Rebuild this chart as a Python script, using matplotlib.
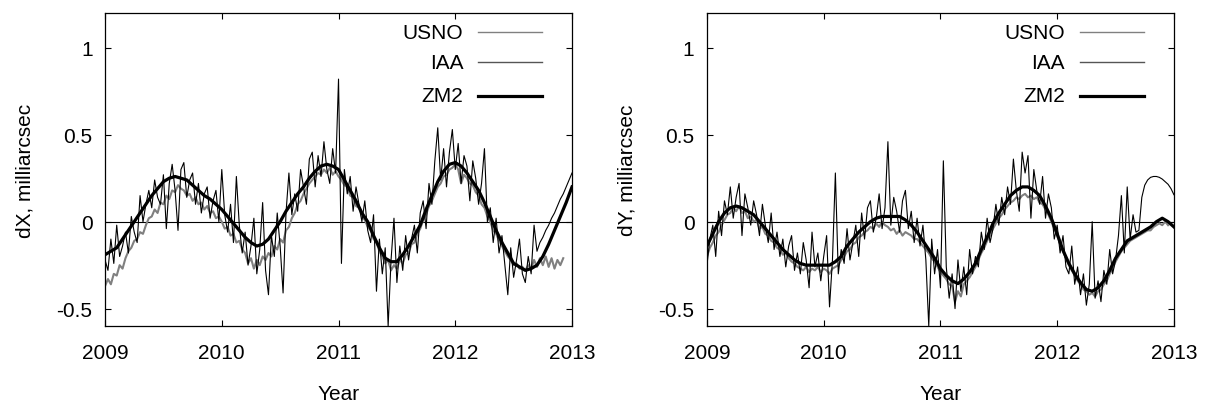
import numpy as np
import matplotlib
matplotlib.use('Agg')
from matplotlib import pyplot as plt

# sampling of the series (years)
t_start = 2009.0
step = 0.025      # USNO / IAA
zm2_step = 0.05   # ZM2

# ---- dX, milliarcsec ----
iaa_dx = [
    -0.22, -0.28, -0.10, -0.24, -0.02, -0.20, -0.14, -0.06,
    -0.18, 0.03, -0.06, -0.12, 0.15, 0.00, 0.10, 0.18,
    0.08, 0.24, 0.14, 0.10, 0.27, -0.04, 0.22, 0.33,
    0.18, -0.05, 0.30, 0.34, 0.14, 0.24, 0.28, 0.10,
    0.22, 0.05, 0.16, 0.20, 0.02, 0.12, 0.18, 0.00,
    0.30, 0.04, -0.06, 0.10, -0.12, 0.26, -0.02, -0.18,
    -0.06, -0.25, -0.14, 0.02, -0.30, -0.16, 0.11, -0.28,
    -0.42, -0.08, -0.20, 0.05, -0.14, -0.41, 0.05, 0.28,
    0.04, 0.16, 0.06, 0.30, 0.20, 0.10, 0.36, 0.40,
    0.20, 0.38, 0.26, 0.46, 0.30, 0.22, 0.42, 0.28,
    0.82, -0.24, 0.30, 0.16, 0.26, 0.06, 0.20, 0.10,
    0.00, 0.12, -0.05, -0.12, 0.04, -0.40, -0.10, -0.30,
    -0.15, -0.60, -0.22, 0.02, -0.35, -0.14, -0.28, -0.08,
    -0.22, -0.10, -0.02, -0.18, 0.05, 0.12, -0.04, 0.22,
    0.10, 0.35, 0.54, 0.24, 0.42, 0.20, 0.40, 0.53,
    0.30, 0.45, 0.22, 0.38, 0.32, 0.12, 0.35, 0.25,
    0.10, 0.22, 0.42, 0.00, 0.08, -0.12, 0.02, -0.18,
    -0.08, -0.25, -0.42, -0.15, -0.32, -0.22, -0.10, -0.30,
    -0.35, -0.20, -0.30, -0.02,
    -0.17, -0.12, -0.09, -0.05, -0.02, 0.02, 0.05, 0.09, 0.13, 0.16, 0.20, 0.24, 0.28,
]
usno_dx = [
    -0.37, -0.33, -0.36, -0.30, -0.31, -0.25, -0.27, -0.21,
    -0.17, -0.15, -0.11, -0.10, -0.06, -0.07, -0.02, 0.02,
    0.03, 0.07, 0.05, 0.11, 0.10, 0.15, 0.13, 0.18,
    0.17, 0.21, 0.19, 0.18, 0.15, 0.16, 0.12, 0.14,
    0.10, 0.11, 0.07, 0.09, 0.05, 0.06, 0.02, 0.03,
    0.00, -0.04, -0.03, -0.08, -0.07, -0.12, -0.11, -0.16,
    -0.18, -0.24, -0.21, -0.27, -0.22, -0.25, -0.20, -0.22,
    -0.18, -0.20, -0.14, -0.16, -0.10, -0.12, -0.05, -0.03,
    0.02, 0.05, 0.10, 0.12, 0.16, 0.19, 0.22, 0.24,
    0.26, 0.28, 0.27, 0.30, 0.28, 0.31, 0.27, 0.29,
    0.26, 0.24, 0.21, 0.20, 0.15, 0.14, 0.09, 0.08,
    0.03, 0.01, -0.03, -0.05, -0.10, -0.12, -0.17, -0.20,
    -0.24, -0.22, -0.28, -0.25, -0.27, -0.22, -0.24, -0.19,
    -0.18, -0.13, -0.12, -0.07, -0.04, 0.01, 0.04, 0.09,
    0.12, 0.16, 0.20, 0.22, 0.26, 0.27, 0.30, 0.31,
    0.33, 0.30, 0.22, 0.27, 0.25, 0.22, 0.21, 0.17,
    0.15, 0.10, 0.08, 0.03, 0.00, -0.05, -0.07, -0.11,
    -0.14, -0.17, -0.20, -0.22, -0.25, -0.24, -0.27, -0.26,
    -0.28, -0.25, -0.27, -0.22, -0.26, -0.21, -0.25, -0.20,
    -0.26, -0.21, -0.27, -0.22, -0.25, -0.21,
]
zm2_dx = [
    -0.19, -0.17, -0.15, -0.10, -0.05, 0.00, 0.05, 0.10, 0.15, 0.19,
    0.23, 0.25, 0.26, 0.25, 0.24, 0.21, 0.18, 0.15, 0.13, 0.10,
    0.07, 0.03, -0.01, -0.05, -0.09, -0.12, -0.14, -0.13, -0.10, -0.05,
    0.00, 0.06, 0.11, 0.16, 0.20, 0.25, 0.29, 0.32, 0.33, 0.32,
    0.30, 0.24, 0.18, 0.12, 0.05, 0.00, -0.08, -0.15, -0.21, -0.23,
    -0.23, -0.19, -0.14, -0.08, -0.02, 0.07, 0.15, 0.23, 0.29, 0.33,
    0.34, 0.32, 0.28, 0.23, 0.18, 0.11, 0.03, -0.05, -0.12, -0.18,
    -0.24, -0.26, -0.28, -0.27, -0.25, -0.20, -0.13, -0.05, 0.03, 0.11,
    0.20,
]

# ---- dY, milliarcsec ----
iaa_dy = [
    -0.25, -0.10, -0.02, -0.20, 0.06, -0.08, 0.12, 0.04,
    0.20, 0.02, 0.14, 0.22, -0.08, 0.16, 0.08, -0.02,
    0.12, 0.04, -0.08, 0.10, -0.02, -0.12, 0.05, -0.16,
    -0.06, -0.20, -0.10, -0.26, -0.14, -0.08, -0.28, -0.18,
    -0.30, -0.12, -0.22, -0.38, -0.06, -0.26, -0.18, -0.34,
    -0.20, -0.08, -0.49, -0.22, 0.28, -0.30, -0.16, -0.24,
    -0.04, -0.22, -0.12, -0.02, -0.20, 0.05, -0.10, 0.08,
    0.12, -0.06, 0.02, 0.16, -0.04, 0.08, 0.46, -0.02,
    0.14, 0.06, -0.06, 0.12, 0.18, -0.04, 0.06, -0.12,
    0.02, -0.14, -0.02, -0.22, -0.60, -0.10, -0.30, -0.16,
    -0.38, 0.35, -0.26, -0.44, -0.30, -0.50, -0.22, -0.40,
    -0.26, -0.42, -0.16, -0.30, -0.20, -0.26, -0.06, -0.16,
    0.02, -0.12, -0.04, 0.10, -0.02, 0.14, 0.04, 0.20,
    0.10, 0.36, 0.18, 0.06, 0.40, 0.28, 0.38, 0.02,
    0.30, 0.18, 0.10, 0.26, 0.02, 0.16, 0.08, -0.10,
    -0.02, -0.18, -0.08, -0.26, -0.30, -0.14, -0.36, -0.26,
    -0.42, -0.30, -0.48, -0.36, 0.00, -0.44, -0.34, -0.46,
    -0.28, -0.36, -0.16, -0.30, -0.22, -0.08, 0.15, -0.18,
    0.20, -0.10, 0.04, -0.06,
    -0.05, 0.14, 0.21, 0.24, 0.255, 0.26, 0.26, 0.255, 0.245, 0.23, 0.215, 0.19, 0.155,
]
usno_dy = [
    -0.20, -0.15, -0.12, -0.08, -0.06, -0.02, 0.01, 0.04,
    0.05, 0.08, 0.06, 0.09, 0.05, 0.06, 0.02, 0.03,
    0.00, 0.01, -0.04, -0.03, -0.07, -0.08, -0.11, -0.12,
    -0.15, -0.16, -0.19, -0.18, -0.21, -0.23, -0.24, -0.26,
    -0.27, -0.28, -0.26, -0.29, -0.27, -0.28, -0.26, -0.29,
    -0.27, -0.28, -0.30, -0.27, -0.26, -0.25, -0.22, -0.20,
    -0.17, -0.16, -0.13, -0.12, -0.09, -0.08, -0.06, -0.05,
    -0.03, -0.04, -0.01, -0.03, 0.00, -0.02, -0.03, -0.05,
    -0.04, -0.07, -0.05, -0.08, -0.06, -0.07, -0.08, -0.10,
    -0.10, -0.12, -0.14, -0.16, -0.18, -0.21, -0.23, -0.26,
    -0.29, -0.31, -0.33, -0.36, -0.37, -0.46, -0.40, -0.43,
    -0.36, -0.34, -0.32, -0.29, -0.26, -0.22, -0.18, -0.15,
    -0.11, -0.08, -0.04, -0.01, 0.02, 0.04, 0.07, 0.09,
    0.11, 0.12, 0.14, 0.13, 0.15, 0.16, 0.14, 0.15,
    0.13, 0.14, 0.11, 0.10, 0.07, 0.04, 0.00, -0.04,
    -0.08, -0.13, -0.17, -0.21, -0.25, -0.28, -0.31, -0.34,
    -0.36, -0.39, -0.40, -0.42, -0.41, -0.43, -0.40, -0.39,
    -0.36, -0.34, -0.30, -0.27, -0.23, -0.20, -0.17, -0.15,
    -0.13, -0.11, -0.10, -0.09, -0.08, -0.07, -0.06, -0.05,
    -0.05, -0.03, -0.02, -0.01, -0.02, 0.00, -0.02,
]
zm2_dy = [
    -0.14, -0.07, 0.00, 0.05, 0.08, 0.09, 0.08, 0.06, 0.04, 0.00,
    -0.04, -0.08, -0.12, -0.16, -0.19, -0.22, -0.24, -0.25, -0.25, -0.25,
    -0.25, -0.25, -0.23, -0.20, -0.14, -0.10, -0.06, -0.03, 0.00, 0.02,
    0.03, 0.03, 0.03, 0.03, 0.01, -0.02, -0.06, -0.11, -0.16, -0.21,
    -0.27, -0.31, -0.34, -0.356, -0.33, -0.29, -0.24, -0.16, -0.09, -0.01,
    0.05, 0.10, 0.15, 0.18, 0.20, 0.20, 0.18, 0.15, 0.09, 0.02,
    -0.07, -0.165, -0.24, -0.30, -0.35, -0.39, -0.40, -0.38, -0.34, -0.28,
    -0.21, -0.16, -0.11, -0.09, -0.07, -0.05, -0.03, 0.00, 0.02, 0.00,
    -0.03,
]

panels = [
    ('dX, milliarcsec', usno_dx, iaa_dx, zm2_dx),
    ('dY, milliarcsec', usno_dy, iaa_dy, zm2_dy),
]
names = ['USNO', 'IAA', 'ZM2']
years = [2009, 2010, 2011, 2012, 2013]
yticks = [-0.5, 0, 0.5, 1]

plt.rcParams['font.family'] = ['Liberation Sans', 'DejaVu Sans']
plt.rcParams['font.size'] = 15

fig = plt.figure(figsize=(12.06, 4.10), dpi=100)
lefts = [0.0871, 0.5862]

for k, (ylab, usno, iaa, zm2) in enumerate(panels):
    ax = fig.add_axes([lefts[k], 0.2024, 0.3872, 0.7634])
    t_u = t_start + step * np.arange(len(usno))
    t_i = t_start + step * np.arange(len(iaa))
    t_z = t_start + zm2_step * np.arange(len(zm2))

    ax.axhline(0, color='black', lw=0.8, zorder=1)
    ax.plot(t_u, usno, color='#808080', lw=1.5, zorder=2)
    ax.plot(t_i, iaa, color='black', lw=0.8, zorder=3)
    ax.plot(t_z, zm2, color='black', lw=2.3, zorder=4)

    ax.set_xlim(2009, 2013)
    ax.set_ylim(-0.6, 1.2)
    ax.set_xticks(years)
    ax.set_yticks(yticks)
    ax.set_yticklabels(['-0.5', '0', '0.5', '1'])
    ax.tick_params(direction='in', top=True, right=True, length=4, width=0.8)
    ax.tick_params(axis='x', pad=12)
    ax.tick_params(axis='y', pad=9)
    for sp in ax.spines.values():
        sp.set_linewidth(0.9)

    ax.set_xlabel('Year')
    ax.xaxis.set_label_coords(0.5, -0.217)
    ax.xaxis.label.set_va('center')
    ax.set_ylabel(ylab)
    ax.yaxis.set_label_coords(-0.171, 0.5)
    ax.yaxis.label.set_va('center')

    # gnuplot style key, text right aligned, sample on the right
    key_y = [0.939, 0.843, 0.735]
    key_col = ['#808080', '#555555', 'black']
    key_lw = [1.0, 1.0, 2.3]
    for name, ky, c, lw in zip(names, key_y, key_col, key_lw):
        ax.text(0.767, ky, name, transform=ax.transAxes, ha='right', va='center')
        ax.plot([0.799, 0.936], [ky, ky], transform=ax.transAxes, color=c, lw=lw,
                clip_on=False)

fig.savefig('out.png', dpi=100)
